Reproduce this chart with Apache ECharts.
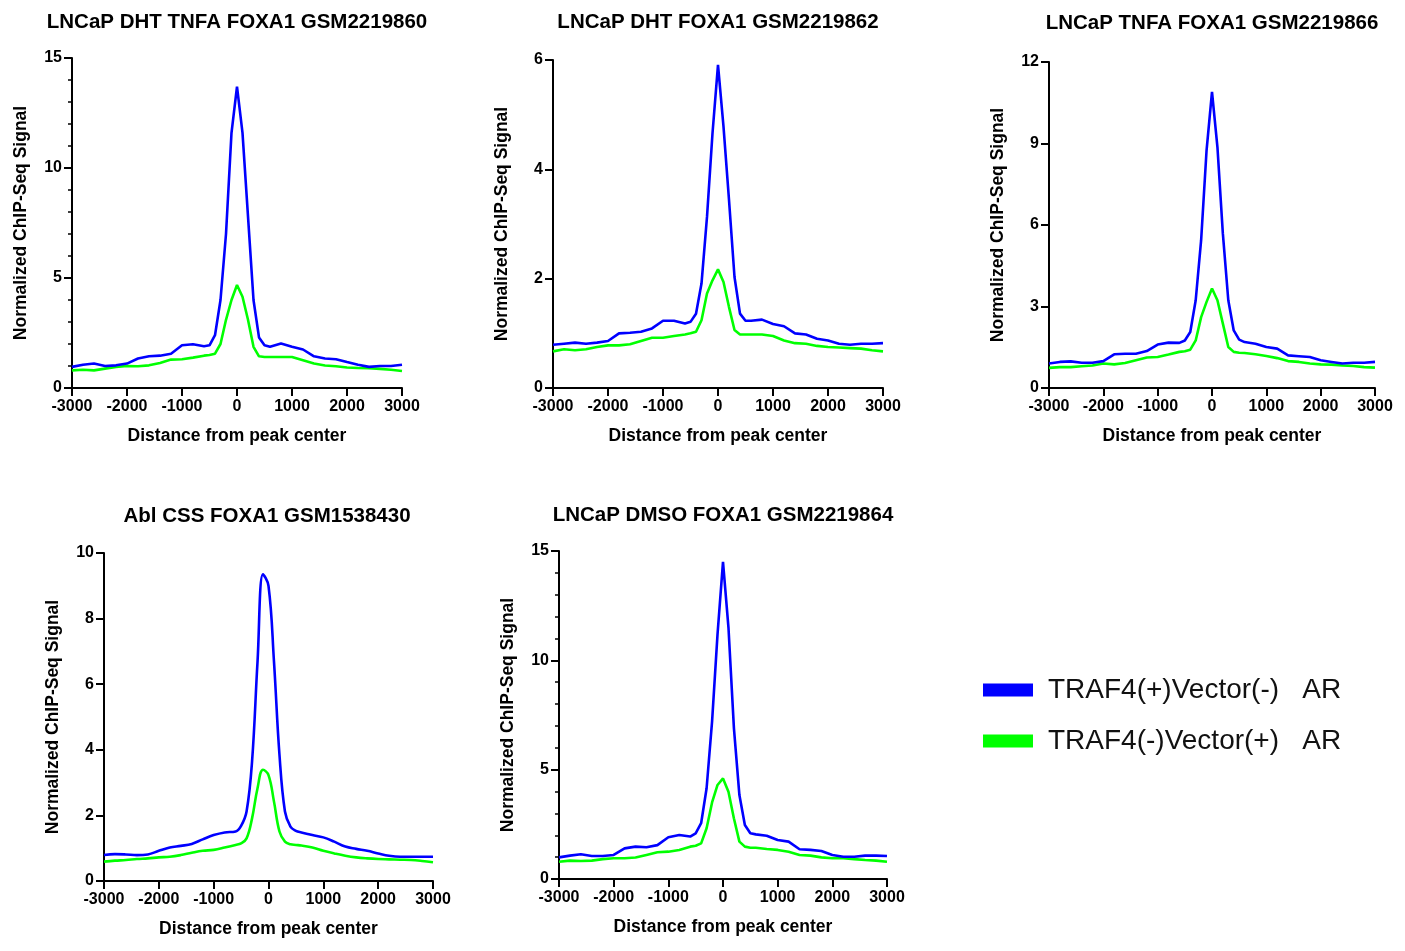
<!DOCTYPE html>
<html>
<head>
<meta charset="utf-8">
<title>FOXA1 ChIP-Seq profiles</title>
<script src="https://cdn.jsdelivr.net/npm/echarts@6/dist/echarts.min.js"></script>
<style>
  html, body { margin: 0; padding: 0; background: #ffffff; }
  #chart { width: 1405px; height: 951px; }
</style>
</head>
<body>
<div id="chart"></div>
<script>
// Distance from peak center (bp) at which each profile is sampled
const distances = [-3000, -2800, -2600, -2400, -2200, -2000, -1800, -1600, -1400, -1200, -1000, -800, -600,
  -500, -400, -300, -200, -100, 0, 100, 200, 300, 400, 500,
  600, 800, 1000, 1200, 1400, 1600, 1800, 2000, 2200, 2400, 2600, 2800, 3000];

const seriesNames = ['TRAF4(+)Vector(-)   AR', 'TRAF4(-)Vector(+)   AR'];

const panelTitles = [
  'LNCaP DHT TNFA FOXA1 GSM2219860',
  'LNCaP DHT FOXA1 GSM2219862',
  'LNCaP TNFA FOXA1 GSM2219866',
  'Abl CSS FOXA1 GSM1538430',
  'LNCaP DMSO FOXA1 GSM2219864'
];

// y-axis tick settings per panel
const yMaxes = [15, 6, 12, 10, 15];
const ySteps = [5, 2, 3, 2, 5];
const xTicks = { min: -3000, max: 3000, step: 1000 };

// LNCaP DHT TNFA FOXA1 GSM2219860
const dhtTnfaTraf4 = [0.96, 1.06, 1.11, 1.00, 1.03, 1.11, 1.34, 1.44, 1.47, 1.56, 1.94, 1.99, 1.90,
  1.94, 2.40, 4.00, 7.00, 11.6, 13.7, 11.6, 7.80, 4.00, 2.30, 1.94,
  1.87, 2.02, 1.87, 1.75, 1.44, 1.34, 1.31, 1.18, 1.06, 0.96, 1.00, 1.00, 1.06];
const dhtTnfaVector = [0.80, 0.83, 0.80, 0.88, 0.96, 1.00, 0.99, 1.03, 1.14, 1.29, 1.31, 1.38, 1.47,
  1.50, 1.56, 2.00, 3.10, 4.00, 4.68, 4.15, 3.10, 1.87, 1.44, 1.41,
  1.41, 1.41, 1.41, 1.26, 1.11, 1.02, 0.99, 0.93, 0.91, 0.90, 0.87, 0.83, 0.77];

// LNCaP DHT FOXA1 GSM2219862
const dhtTraf4 = [0.79, 0.81, 0.83, 0.81, 0.83, 0.86, 1.00, 1.01, 1.03, 1.09, 1.23, 1.23, 1.18,
  1.21, 1.36, 1.91, 3.13, 4.66, 5.91, 4.78, 3.44, 2.03, 1.36, 1.23,
  1.23, 1.25, 1.17, 1.13, 1.00, 0.98, 0.90, 0.87, 0.81, 0.79, 0.81, 0.81, 0.82];
const dhtVector = [0.67, 0.71, 0.69, 0.71, 0.75, 0.78, 0.78, 0.80, 0.86, 0.92, 0.92, 0.95, 0.98,
  1.00, 1.03, 1.24, 1.73, 1.97, 2.17, 1.94, 1.48, 1.06, 0.98, 0.98,
  0.98, 0.98, 0.95, 0.87, 0.82, 0.81, 0.77, 0.75, 0.74, 0.73, 0.72, 0.69, 0.67];

// LNCaP TNFA FOXA1 GSM2219866
const tnfaTraf4 = [0.90, 0.96, 0.98, 0.93, 0.93, 0.99, 1.24, 1.26, 1.26, 1.36, 1.60, 1.67, 1.66,
  1.75, 2.06, 3.23, 5.44, 8.75, 10.9, 8.87, 5.68, 3.23, 2.12, 1.78,
  1.69, 1.63, 1.51, 1.45, 1.20, 1.17, 1.14, 1.02, 0.96, 0.90, 0.93, 0.93, 0.96];
const tnfaVector = [0.74, 0.77, 0.77, 0.80, 0.83, 0.90, 0.87, 0.92, 1.02, 1.12, 1.14, 1.23, 1.33,
  1.35, 1.41, 1.75, 2.61, 3.17, 3.66, 3.23, 2.37, 1.51, 1.33, 1.30,
  1.29, 1.24, 1.18, 1.10, 0.99, 0.96, 0.90, 0.87, 0.86, 0.83, 0.81, 0.77, 0.75];

// Abl CSS FOXA1 GSM1538430
const ablTraf4 = [0.79, 0.82, 0.81, 0.79, 0.81, 0.92, 1.02, 1.07, 1.13, 1.27, 1.40, 1.48, 1.51,
  1.68, 2.12, 3.64, 6.69, 9.35, 9.00, 6.69, 3.85, 2.12, 1.66, 1.53,
  1.48, 1.40, 1.33, 1.20, 1.05, 0.98, 0.92, 0.84, 0.77, 0.74, 0.74, 0.74, 0.74];
const ablVector = [0.59, 0.62, 0.64, 0.67, 0.69, 0.72, 0.74, 0.79, 0.86, 0.92, 0.95, 1.02, 1.10,
  1.15, 1.30, 1.91, 2.83, 3.39, 3.23, 2.42, 1.51, 1.20, 1.12, 1.10,
  1.08, 1.02, 0.92, 0.84, 0.77, 0.72, 0.69, 0.67, 0.66, 0.65, 0.64, 0.61, 0.57];

// LNCaP DMSO FOXA1 GSM2219864
const dmsoTraf4 = [0.99, 1.07, 1.13, 1.05, 1.05, 1.10, 1.40, 1.48, 1.45, 1.55, 1.91, 2.01, 1.94,
  2.09, 2.55, 4.15, 7.20, 11.2, 14.5, 11.5, 6.89, 3.84, 2.47, 2.09,
  2.04, 1.98, 1.78, 1.71, 1.36, 1.33, 1.28, 1.10, 1.02, 1.02, 1.07, 1.07, 1.05];
const dmsoVector = [0.79, 0.84, 0.82, 0.84, 0.91, 0.95, 0.95, 0.98, 1.10, 1.22, 1.25, 1.33, 1.48,
  1.52, 1.63, 2.32, 3.50, 4.30, 4.60, 3.99, 2.77, 1.71, 1.48, 1.43,
  1.43, 1.37, 1.33, 1.25, 1.10, 1.07, 0.99, 0.95, 0.95, 0.91, 0.87, 0.84, 0.79];

const panelData = [
  [dhtTnfaTraf4, dhtTnfaVector],
  [dhtTraf4, dhtVector],
  [tnfaTraf4, tnfaVector],
  [ablTraf4, ablVector],
  [dmsoTraf4, dmsoVector]
];

// Plot-area rectangles and title anchors for the 3 + 2 panel layout
const layout = [
  { left: 72,   top: 58,  width: 330, height: 330, titleX: 237,  titleY: 12 },
  { left: 553,  top: 60,  width: 330, height: 328, titleX: 718,  titleY: 12 },
  { left: 1049, top: 62,  width: 326, height: 326, titleX: 1212, titleY: 13 },
  { left: 104,  top: 553, width: 329, height: 328, titleX: 267,  titleY: 506 },
  { left: 559,  top: 551, width: 328, height: 328, titleX: 723,  titleY: 505 }
];

const FONT = '"Liberation Sans", Arial, Helvetica, sans-serif';
const lineColors = ['#0000ff', '#00ff00'];

const grids = [], xAxes = [], yAxes = [], titles = [], series = [];

layout.forEach((box, i) => {
  grids.push({ left: box.left, top: box.top, width: box.width, height: box.height, containLabel: false });

  titles.push({
    text: panelTitles[i],
    left: box.titleX,
    top: box.titleY,
    textAlign: 'center',
    padding: 0,
    textStyle: { fontFamily: FONT, fontSize: 20.5, fontWeight: 'bold', color: '#000' }
  });

  xAxes.push({
    type: 'value',
    gridIndex: i,
    min: xTicks.min,
    max: xTicks.max,
    interval: xTicks.step,
    name: 'Distance from peak center',
    nameLocation: 'middle',
    nameGap: 39,
    nameTextStyle: { fontFamily: FONT, fontSize: 17.5, fontWeight: 'bold', color: '#000' },
    axisLine: { show: true, onZero: false, lineStyle: { color: '#000', width: 2 } },
    axisTick: { show: true, length: 8, lineStyle: { color: '#000', width: 2 } },
    axisLabel: {
      fontFamily: FONT, fontSize: 16, fontWeight: 'bold', color: '#000', margin: 11,
      formatter: v => String(v)
    },
    splitLine: { show: false }
  });

  const hasMinor = ySteps[i] === 5;
  yAxes.push({
    type: 'value',
    gridIndex: i,
    min: 0,
    max: yMaxes[i],
    interval: ySteps[i],
    name: 'Normalized ChIP-Seq Signal',
    nameLocation: 'middle',
    nameGap: 42,
    nameTextStyle: { fontFamily: FONT, fontSize: 17.5, fontWeight: 'bold', color: '#000' },
    axisLine: { show: true, onZero: false, lineStyle: { color: '#000', width: 2 } },
    axisTick: { show: true, length: 8, lineStyle: { color: '#000', width: 2 } },
    minorTick: { show: hasMinor, splitNumber: 5, length: 4, lineStyle: { color: '#000', width: 1.5 } },
    axisLabel: { fontFamily: FONT, fontSize: 16, fontWeight: 'bold', color: '#000', margin: 10 },
    splitLine: { show: false }
  });

  panelData[i].forEach((values, k) => {
    series.push({
      name: seriesNames[k],
      type: 'line',
      xAxisIndex: i,
      yAxisIndex: i,
      data: distances.map((d, j) => [d, values[j]]),
      showSymbol: false,
      symbol: 'none',
      smooth: i === 3 ? 0.4 : false,
      silent: true,
      z: k === 0 ? 3 : 2,
      color: lineColors[k],
      lineStyle: { color: lineColors[k], width: 2.6 }
    });
  });
});

const chart = echarts.init(document.getElementById('chart'), null, { renderer: 'canvas' });
chart.setOption({
  backgroundColor: '#ffffff',
  animation: false,
  title: titles,
  grid: grids,
  xAxis: xAxes,
  yAxis: yAxes,
  legend: {
    data: seriesNames,
    orient: 'vertical',
    left: 983,
    top: 676,
    padding: 0,
    icon: 'rect',
    itemWidth: 50,
    itemHeight: 13,
    itemGap: 23,
    selectedMode: false,
    textStyle: { fontFamily: FONT, fontSize: 28, color: '#111', padding: [0, 0, 0, 10] }
  },
  series: series
});
</script>
</body>
</html>
